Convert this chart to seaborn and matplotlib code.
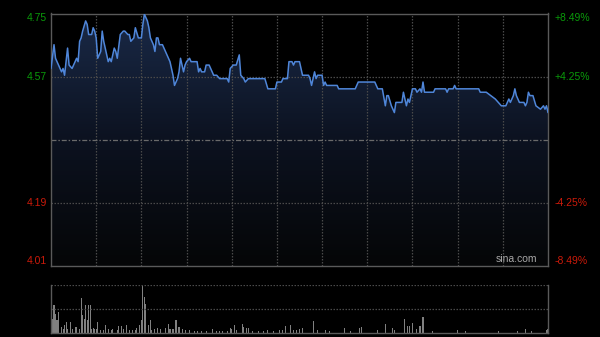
import numpy as np
import pandas as pd
import matplotlib
matplotlib.use("Agg")
import matplotlib.pyplot as plt
import seaborn as sns
from matplotlib.colors import LinearSegmentedColormap

# ---------------- data ----------------
prev_close = 4.38
pct_levels = [8.49, 4.25, -4.25, -8.49]
left_labels = ["4.75", "4.57", "4.19", "4.01"]
right_labels = ["+8.49%", "+4.25%", "-4.25%", "-8.49%"]

price_minutes = [0, 2, 3, 6, 7, 8, 9, 11, 12, 14, 17, 18, 19, 20, 21, 23, 24, 25, 27, 28,
                 29, 30, 31, 33, 34, 35, 37, 38, 39, 40, 42, 43, 44, 46, 48, 49, 51, 52, 53, 55,
                 56, 58, 60, 61, 62, 64, 65, 66, 68, 69, 70, 71, 72, 74, 76, 77, 79, 80, 81, 82,
                 84, 85, 86, 87, 88, 89, 90, 92, 93, 97, 98, 99, 100, 102, 103, 105, 107, 108, 110, 112,
                 117, 118, 119, 121, 123, 125, 126, 128, 129, 131, 142, 144, 149, 150, 153, 154, 157, 158, 160, 161,
                 162, 165, 167, 171, 172, 173, 175, 176, 177, 180, 181, 182, 183, 190, 191, 202, 204, 215, 217, 220,
                 222, 223, 224, 226, 228, 229, 233, 234, 236, 237, 238, 240, 242, 243, 245, 246, 247, 248, 254, 255,
                 262, 263, 264, 267, 268, 269, 284, 285, 289, 292, 295, 297, 299, 302, 304, 305, 307, 308, 309, 311,
                 314, 315, 316, 317, 318, 320, 322, 325, 327, 328, 329, 330]
prices = [4.59, 4.66, 4.62, 4.59, 4.58, 4.59, 4.57, 4.65, 4.60, 4.59, 4.62, 4.61, 4.67, 4.68, 4.70, 4.73, 4.72, 4.69, 4.69, 4.71,
          4.70, 4.68, 4.62, 4.64, 4.70, 4.67, 4.63, 4.61, 4.62, 4.61, 4.65, 4.64, 4.62, 4.69, 4.70, 4.70, 4.69, 4.69, 4.67, 4.68,
          4.71, 4.68, 4.68, 4.72, 4.75, 4.73, 4.71, 4.68, 4.66, 4.64, 4.68, 4.68, 4.66, 4.66, 4.64, 4.63, 4.61, 4.59, 4.57, 4.54,
          4.56, 4.58, 4.62, 4.60, 4.58, 4.60, 4.61, 4.62, 4.61, 4.61, 4.58, 4.59, 4.58, 4.58, 4.60, 4.60, 4.58, 4.57, 4.57, 4.56,
          4.56, 4.55, 4.59, 4.60, 4.60, 4.63, 4.57, 4.56, 4.55, 4.56, 4.56, 4.53, 4.53, 4.55, 4.55, 4.56, 4.56, 4.61, 4.61, 4.60,
          4.61, 4.61, 4.57, 4.57, 4.56, 4.54, 4.58, 4.56, 4.57, 4.57, 4.54, 4.55, 4.54, 4.54, 4.53, 4.53, 4.55, 4.55, 4.53, 4.53,
          4.48, 4.51, 4.51, 4.48, 4.46, 4.49, 4.49, 4.52, 4.48, 4.50, 4.49, 4.53, 4.53, 4.52, 4.53, 4.52, 4.55, 4.52, 4.52, 4.53,
          4.53, 4.52, 4.53, 4.53, 4.54, 4.53, 4.53, 4.52, 4.52, 4.51, 4.50, 4.49, 4.48, 4.48, 4.50, 4.49, 4.51, 4.53, 4.51, 4.49,
          4.49, 4.48, 4.49, 4.52, 4.51, 4.51, 4.48, 4.47, 4.48, 4.47, 4.48, 4.46]

volume_minutes = [0, 1, 2, 3, 4, 5, 7, 8, 9, 10, 11, 13, 14, 16, 17, 19, 20, 21, 22, 23,
                  24, 25, 26, 27, 28, 29, 30, 31, 33, 35, 36, 38, 40, 41, 44, 45, 47, 48, 50, 52,
                  54, 56, 57, 59, 60, 61, 62, 63, 65, 66, 67, 69, 71, 73, 76, 78, 79, 81, 83, 85,
                  87, 89, 92, 95, 97, 100, 103, 107, 110, 112, 114, 117, 119, 120, 122, 123, 127, 128, 130, 131,
                  134, 138, 141, 144, 148, 152, 154, 156, 159, 161, 163, 165, 167, 174, 177, 182, 185, 195, 199, 205,
                  206, 217, 222, 227, 228, 235, 237, 238, 240, 243, 245, 247, 253, 270, 275, 297, 310, 315, 319, 329,
                  330]
volumes = [775, 360, 690, 480, 320, 525, 150, 110, 190, 275, 110, 275, 110, 150, 150, 110, 875, 460, 360, 690,
           320, 690, 690, 110, 125, 110, 110, 275, 85, 65, 210, 110, 85, 110, 65, 165, 165, 110, 190, 65,
           65, 65, 125, 210, 320, 1190, 900, 730, 190, 320, 65, 110, 125, 110, 125, 235, 110, 110, 320, 150,
           110, 65, 65, 40, 40, 40, 40, 90, 40, 40, 40, 40, 125, 110, 210, 85, 235, 150, 135, 135,
           40, 40, 40, 85, 40, 65, 65, 165, 190, 65, 65, 110, 125, 300, 65, 65, 40, 135, 40, 135,
           150, 65, 225, 125, 65, 345, 165, 165, 250, 110, 165, 390, 40, 85, 40, 40, 40, 110, 40, 65,
           110]

df = pd.DataFrame({"minute": price_minutes, "price": prices})
vdf = pd.DataFrame({"minute": volume_minutes, "volume": volumes})

# ---------------- style ----------------
sns.set_theme(style="dark")
plt.rcParams["font.family"] = ["Liberation Sans", "DejaVu Sans"]

BG = "#000000"
GREEN = "#0a9a0a"
RED = "#cc1a0a"
GRID = "#4a4a4a"
SPINE = "#5a5a5a"

ymin = prev_close * (1 - 0.0849)
ymax = prev_close * (1 + 0.0849)

fig = plt.figure(figsize=(6.0, 3.37), dpi=100, facecolor=BG)
ax = fig.add_axes([51 / 600, 1 - 266 / 337, 497 / 600, 252.5 / 337])
axv = fig.add_axes([51 / 600, 1 - 333 / 337, 497 / 600, 47.7 / 337])

for a in (ax, axv):
    a.set_facecolor(BG)
    a.grid(False)
    a.set_xlim(0, 330)
    a.set_xticks([])
    a.set_yticks([])
    a.set_xlabel("")
    a.set_ylabel("")

ax.set_ylim(ymin, ymax)

# gradient fill under the price line
poly = ax.fill_between(df["minute"], df["price"], ymin, facecolor="none", edgecolor="none")
cmap = LinearSegmentedColormap.from_list("g", ["#050607", "#0c1220", "#1a2a48"])
grad = np.linspace(0, 1, 256).reshape(-1, 1)
im = ax.imshow(grad, extent=[0, 330, ymin, ymax], origin="lower", aspect="auto",
               cmap=cmap, zorder=1)
im.set_clip_path(poly.get_paths()[0], transform=ax.transData)

# grid lines
for m in range(30, 330, 30):
    ax.axvline(m, color=GRID, lw=0.9, ls=(0, (1.2, 1.2)), zorder=2)
for p in pct_levels:
    if abs(p) < 8:
        ax.axhline(prev_close * (1 + p / 100), color=GRID, lw=0.9, ls=(0, (1.2, 1.2)), zorder=2)
ax.axhline(prev_close, color="#6a6a6a", lw=0.9, ls=(0, (4, 1.5, 1.2, 1.5)), zorder=2)

sns.lineplot(data=df, x="minute", y="price", ax=ax, color="#4f86d9", lw=1.1, zorder=4)
ax.set_xlabel("")
ax.set_ylabel("")

for s in ax.spines.values():
    s.set_visible(True)
    s.set_color(SPINE)
    s.set_linewidth(1.0)

# axis labels
tr = ax.get_yaxis_transform()
for i, (p, ll, rl) in enumerate(zip(pct_levels, left_labels, right_labels)):
    yv = prev_close * (1 + p / 100)
    col = GREEN if p > 0 else RED
    va = "top" if i == 0 else ("bottom" if i == 3 else "center")
    ax.text(-0.008, yv, ll, transform=tr, ha="right", va=va, color=col, fontsize=7.5)
    ax.text(1.014, yv, rl, transform=tr, ha="left", va=va, color=col, fontsize=7.5)

ax.text(0.978, 0.008, "sina.com", transform=ax.transAxes, ha="right", va="bottom",
        color="#a8a8a8", fontsize=7.5, zorder=5)

# volume panel
vmax = max(volumes)
axv.bar(vdf["minute"], vdf["volume"], width=0.7, color="#808080", linewidth=0)
axv.set_ylim(0, vmax)
axv.axhline(vmax, color=GRID, lw=0.9, ls=(0, (1.2, 1.2)))
axv.axhline(vmax / 2, color=GRID, lw=0.9, ls=(0, (1.2, 1.2)))
for k, s in axv.spines.items():
    s.set_color(SPINE)
    s.set_linewidth(1.0)
    s.set_visible(k != "top")

fig.savefig("out.png", dpi=100, facecolor=BG)
